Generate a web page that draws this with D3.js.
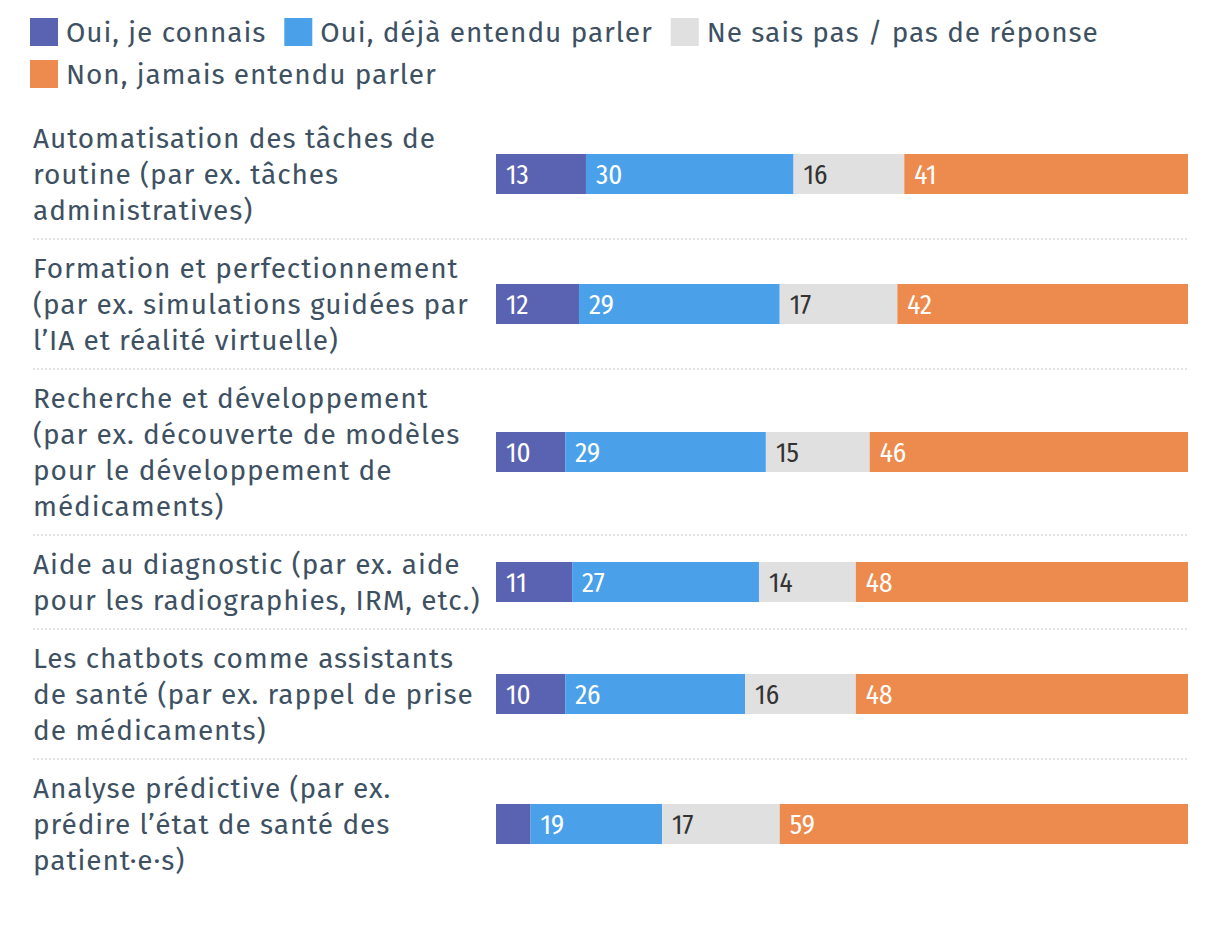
<!DOCTYPE html>
<html><head><meta charset="utf-8">
<script src="https://cdn.jsdelivr.net/npm/d3@7"></script>
<style>
html,body{margin:0;padding:0;background:#fff;}
svg{display:block;}
</style></head>
<body>
<svg id="chart" width="1220" height="930"></svg>
<script>
const series = ["Oui, je connais", "Oui, déjà entendu parler", "Ne sais pas / pas de réponse", "Non, jamais entendu parler"];
const colors = ["#5a63b2", "#4aa1e9", "#e0e0e0", "#ed8a4e"];
const categories = [
  ["Automatisation des tâches de", "routine (par ex. tâches", "administratives)"],
  ["Formation et perfectionnement", "(par ex. simulations guidées par", "l’IA et réalité virtuelle)"],
  ["Recherche et développement", "(par ex. découverte de modèles", "pour le développement de", "médicaments)"],
  ["Aide au diagnostic (par ex. aide", "pour les radiographies, IRM, etc.)"],
  ["Les chatbots comme assistants", "de santé (par ex. rappel de prise", "de médicaments)"],
  ["Analyse prédictive (par ex.", "prédire l’état de santé des", "patient·e·s)"]
];
const ouiConnais = [13, 12, 10, 11, 10, 5];
const ouiEntendu = [30, 29, 29, 27, 26, 19];
const neSaisPas  = [16, 17, 15, 14, 16, 17];
const nonJamais  = [41, 42, 46, 48, 48, 59];
const showLabel = [[true,true,true,true],[true,true,true,true],[true,true,true,true],[true,true,true,true],[true,true,true,true],[false,true,true,true]];

const svg = d3.select("#chart");
const FONT = "'Fira Sans','Noto Sans','Open Sans',sans-serif";
const textColor = "#3e5162";
const fs = 28;

// letter-spacing fitted so the reference line width (402px) is matched
const refStr = "Automatisation des tâches de";
const probe = svg.append("text").attr("font-family", FONT).attr("font-size", fs).text(refStr);
const w0 = probe.node().getComputedTextLength();
probe.remove();
const ls = Math.max(0, (402 - w0) / (refStr.length - 1));
const lineH = 36;

// legend
const legendRows = [[0,1,2],[3]];
const lg = svg.append("g");
let ly = 32;
legendRows.forEach(row => {
  let lx = 30;
  row.forEach(i => {
    lg.append("rect").attr("x", lx).attr("y", ly - 14).attr("width", 28).attr("height", 28).attr("fill", colors[i]);
    const t = lg.append("text").attr("x", lx + 36).attr("y", ly).attr("dy", "0.35em")
      .attr("font-family", FONT).attr("font-size", fs).attr("letter-spacing", ls).attr("fill", textColor).text(series[i]);
    lx += 36 + t.node().getComputedTextLength() + 18;
  });
  ly += 42;
});

// layout of rows
const data = categories.map((c, i) => ({lines: c, vals: [ouiConnais[i], ouiEntendu[i], neSaisPas[i], nonJamais[i]], idx: i}));
const pad = 11;
let y = 109;
data.forEach(d => {
  const half = d.lines.length * lineH / 2 + pad;
  d.cy = y + half;
  y = d.cy + half;
  d.sep = y;
});

const x = d3.scaleLinear().domain([0, 100]).range([496, 1188]);
const barH = 40;

const rows = svg.append("g").selectAll("g").data(data).join("g");

rows.each(function(d, ri) {
  const g = d3.select(this);
  const n = d.lines.length;
  g.append("text").attr("font-family", FONT).attr("font-size", fs).attr("letter-spacing", ls).attr("fill", textColor)
    .selectAll("tspan").data(d.lines).join("tspan")
    .attr("x", 33).attr("y", (l, i) => d.cy + (i - (n - 1) / 2) * lineH).attr("dy", "0.35em").text(l => l);
  let acc = 0;
  d.vals.forEach((v, k) => {
    g.append("rect").attr("x", x(acc)).attr("y", d.cy - barH / 2).attr("width", x(acc + v) - x(acc)).attr("height", barH).attr("fill", colors[k]);
    if (showLabel[ri][k]) {
      g.append("text").attr("x", x(acc) + 10).attr("y", d.cy).attr("dy", "0.36em")
        .attr("font-family", "'Fira Sans Condensed','Roboto Condensed','Liberation Sans Narrow','Roboto',sans-serif")
        .attr("font-size", 27).attr("fill", k === 2 ? "#333" : "#fff").text(v);
    }
    acc += v;
  });
  if (ri < data.length - 1) {
    g.append("line").attr("x1", 33).attr("x2", 1188).attr("y1", d.sep).attr("y2", d.sep)
      .attr("stroke", "#dcdcdc").attr("stroke-width", 1.5).attr("stroke-dasharray", "2,2");
  }
});
</script>
</body></html>
